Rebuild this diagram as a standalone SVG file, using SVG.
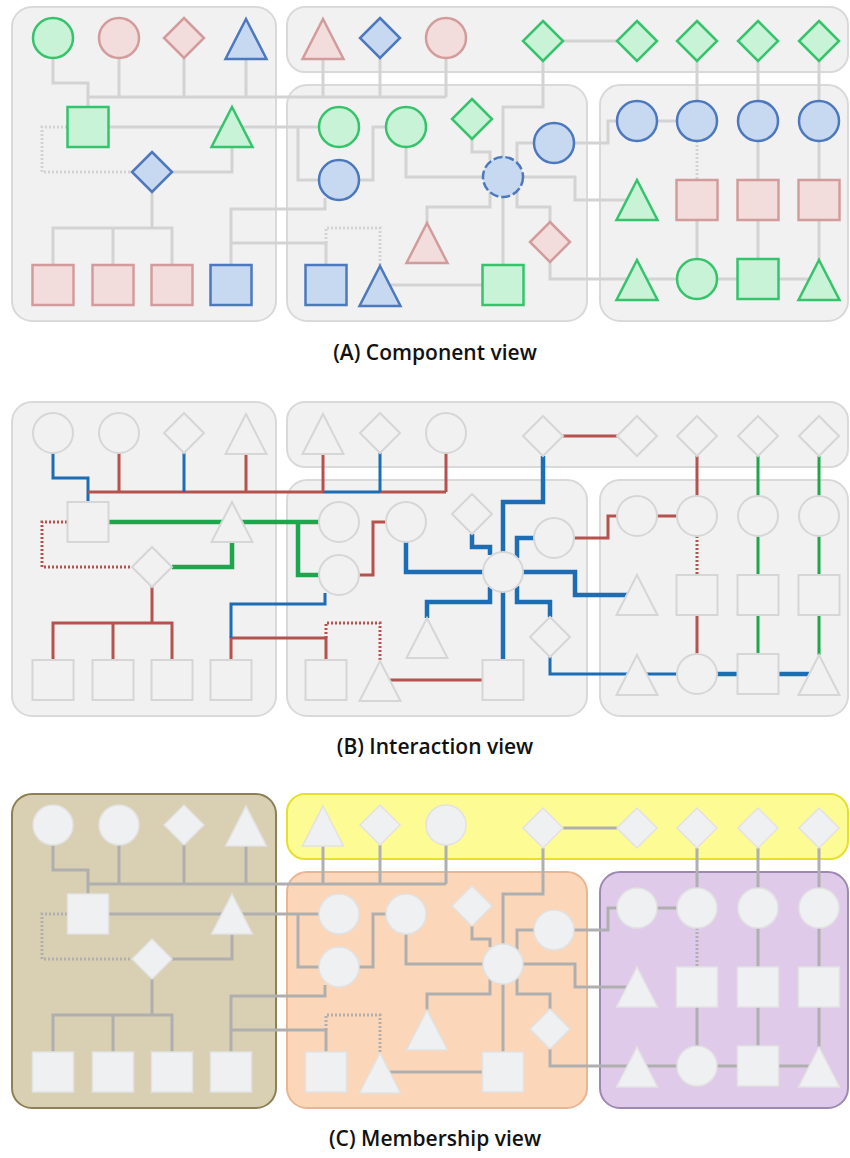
<svg xmlns="http://www.w3.org/2000/svg" width="850" height="1158" viewBox="0 0 850 1158">
<style>
.bx{stroke-width:2}
.A .bx,.B .bx{fill:#f1f1f1;stroke:#d9d9d9}
.nd{stroke-width:2.5}
.A .ng{fill:#c9f3d6;stroke:#35c46b}
.A .np{fill:#f3dcdc;stroke:#d39c9c}
.A .nb{fill:#c7d9f1;stroke:#4c78bd}
.A .hub{stroke-dasharray:9 3}
.B .nd{fill:#f1f1f1;stroke:#d6d6d6;stroke-width:2}
.C .nd{fill:#eff0f2;stroke:#e2e2e2;stroke-width:1.5}
.ln{fill:none;stroke-width:3}
.A .ln{stroke:#d3d3d3}
.C .ln{stroke:#afafaf}
.B .ln.r{stroke:#b5524e}
.B .ln.u{stroke:#1c6db3}
.B .ln.e{stroke:#1ea64c}
.B .ln.t{stroke-width:4.5}
.dt{stroke-dasharray:2 2}
.ttl{font-family:"Open Sans","Noto Sans",sans-serif;font-weight:600;font-size:21px;fill:#111;text-anchor:middle}
</style>
<rect width="850" height="1158" fill="#ffffff"/>

<!-- ============ PANEL A ============ -->
<g id="panelA" class="A">
<g id="a-boxes">
<rect class="bx" x="12" y="7" width="264" height="314" rx="20"/>
<rect class="bx" x="287" y="7" width="561" height="65" rx="18"/>
<rect class="bx" x="287" y="85" width="300" height="236" rx="20"/>
<rect class="bx" x="600" y="85" width="248" height="236" rx="20"/>
</g>
<g id="a-connectors">
<path class="ln" d="M53,58V83H88V107"/>
<path class="ln" d="M88,97H446"/>
<path class="ln" d="M119,58V97"/>
<path class="ln" d="M184,58V97"/>
<path class="ln" d="M246,59V97"/>
<path class="ln" d="M323,59V97"/>
<path class="ln" d="M380,58V97"/>
<path class="ln" d="M446,58V97"/>
<path class="ln" d="M108,127H319"/>
<path class="ln" d="M298,127V180H319"/>
<path class="ln dt" d="M67,127H42V172H132"/>
<path class="ln" d="M172,172H232V147"/>
<path class="ln" d="M152,192V228M53,265V228H172V265M113,228V265"/>
<path class="ln" d="M231,265V243H326V265"/>
<path class="ln" d="M325,198V209H231V243"/>
<path class="ln dt" d="M326,243V228H380V266"/>
<path class="ln" d="M359,180H373V127H386"/>
<path class="ln" d="M406,147V177H483"/>
<path class="ln" d="M472,139V152H490V160"/>
<path class="ln" d="M543,61V107H503V157"/>
<path class="ln" d="M534,143H517V163"/>
<path class="ln" d="M517,191V207H550V222"/>
<path class="ln" d="M490,192V207H427V223"/>
<path class="ln" d="M503,197V265"/>
<path class="ln" d="M523,177H575V200H627"/>
<path class="ln" d="M550,262V279H809"/>
<path class="ln" d="M390,285H483"/>
<path class="ln" d="M574,143H608V121H617"/>
<path class="ln" d="M563,41H617"/>
<path class="ln" d="M657,121H677"/>
<path class="ln" d="M697,61V101"/>
<path class="ln" d="M758,61V101"/>
<path class="ln" d="M819,61V101"/>
<path class="ln dt" d="M697,141V180"/>
<path class="ln" d="M758,141V180"/>
<path class="ln" d="M819,141V180"/>
<path class="ln" d="M697,220V259"/>
<path class="ln" d="M758,220V259"/>
<path class="ln" d="M819,220V260"/>
</g>
<g id="a-n1"><circle class="nd ng" cx="53" cy="38" r="20"/></g>
<g id="a-n2"><circle class="nd np" cx="119" cy="38" r="20"/></g>
<g id="a-n3"><polygon class="nd np" points="184,18 204,38 184,58 164,38"/></g>
<g id="a-n4"><polygon class="nd nb" points="246,19 266.5,59 225.5,59"/></g>
<g id="a-n5"><rect class="nd ng" x="67.5" y="107" width="41" height="40"/></g>
<g id="a-n6"><polygon class="nd ng" points="232,107 252.5,147 211.5,147"/></g>
<g id="a-n7"><polygon class="nd nb" points="152,152 172,172 152,192 132,172"/></g>
<g id="a-n8"><rect class="nd np" x="32.5" y="265" width="41" height="40"/></g>
<g id="a-n9"><rect class="nd np" x="92.5" y="265" width="41" height="40"/></g>
<g id="a-n10"><rect class="nd np" x="151.5" y="265" width="41" height="40"/></g>
<g id="a-n11"><rect class="nd nb" x="210.5" y="265" width="41" height="40"/></g>
<g id="a-n12"><polygon class="nd np" points="323,19 343.5,59 302.5,59"/></g>
<g id="a-n13"><polygon class="nd nb" points="380,18 400,38 380,58 360,38"/></g>
<g id="a-n14"><circle class="nd np" cx="446" cy="38" r="20"/></g>
<g id="a-n15"><polygon class="nd ng" points="543,21 563,41 543,61 523,41"/></g>
<g id="a-n16"><polygon class="nd ng" points="637,21 657,41 637,61 617,41"/></g>
<g id="a-n17"><polygon class="nd ng" points="697,21 717,41 697,61 677,41"/></g>
<g id="a-n18"><polygon class="nd ng" points="758,21 778,41 758,61 738,41"/></g>
<g id="a-n19"><polygon class="nd ng" points="819,21 839,41 819,61 799,41"/></g>
<g id="a-n20"><circle class="nd ng" cx="339" cy="127" r="20"/></g>
<g id="a-n21"><circle class="nd ng" cx="406" cy="127" r="20"/></g>
<g id="a-n22"><polygon class="nd ng" points="472,99 492,119 472,139 452,119"/></g>
<g id="a-n23"><circle class="nd nb" cx="554" cy="143" r="20"/></g>
<g id="a-n24"><circle class="nd nb" cx="339" cy="180" r="20"/></g>
<g id="a-n25"><circle class="nd nb hub" cx="503" cy="177" r="20"/></g>
<g id="a-n26"><polygon class="nd np" points="427,223 447.5,263 406.5,263"/></g>
<g id="a-n27"><polygon class="nd np" points="550,222 570,242 550,262 530,242"/></g>
<g id="a-n28"><rect class="nd nb" x="305.5" y="265" width="41" height="40"/></g>
<g id="a-n29"><polygon class="nd nb" points="380,266 400.5,306 359.5,306"/></g>
<g id="a-n30"><rect class="nd ng" x="482.5" y="265" width="41" height="40"/></g>
<g id="a-n31"><circle class="nd nb" cx="637" cy="121" r="20"/></g>
<g id="a-n32"><circle class="nd nb" cx="697" cy="121" r="20"/></g>
<g id="a-n33"><circle class="nd nb" cx="758" cy="121" r="20"/></g>
<g id="a-n34"><circle class="nd nb" cx="819" cy="121" r="20"/></g>
<g id="a-n35"><polygon class="nd ng" points="637,180 657.5,220 616.5,220"/></g>
<g id="a-n36"><rect class="nd np" x="676.5" y="180" width="41" height="40"/></g>
<g id="a-n37"><rect class="nd np" x="737.5" y="180" width="41" height="40"/></g>
<g id="a-n38"><rect class="nd np" x="798.5" y="180" width="41" height="40"/></g>
<g id="a-n39"><polygon class="nd ng" points="637,260 657.5,300 616.5,300"/></g>
<g id="a-n40"><circle class="nd ng" cx="697" cy="279" r="20"/></g>
<g id="a-n41"><rect class="nd ng" x="737.5" y="259" width="41" height="40"/></g>
<g id="a-n42"><polygon class="nd ng" points="819,260 839.5,300 798.5,300"/></g>
<text class="ttl" x="435" y="360">(A) Component view</text>
</g>

<!-- ============ PANEL B ============ -->
<g id="panelB" class="B" transform="translate(0,395)">
<g id="b-boxes">
<rect class="bx" x="12" y="7" width="264" height="314" rx="20"/>
<rect class="bx" x="287" y="7" width="561" height="65" rx="18"/>
<rect class="bx" x="287" y="85" width="300" height="236" rx="20"/>
<rect class="bx" x="600" y="85" width="248" height="236" rx="20"/>
</g>
<g id="b-connectors">
<path class="ln u" d="M53,58V83H88V107"/>
<path class="ln r" d="M88,97H323"/>
<path class="ln u" d="M323,97H380"/>
<path class="ln r" d="M380,97H446"/>
<path class="ln r" d="M119,58V97"/>
<path class="ln u" d="M184,58V97"/>
<path class="ln r" d="M246,59V97"/>
<path class="ln r" d="M323,59V97"/>
<path class="ln u" d="M380,58V97"/>
<path class="ln r" d="M446,58V97"/>
<path class="ln e t" d="M108,127H319"/>
<path class="ln e t" d="M298,127V180H319"/>
<path class="ln r dt" d="M67,127H42V172H132"/>
<path class="ln e t" d="M172,172H232V147"/>
<path class="ln r" d="M152,192V228M53,265V228H172V265M113,228V265"/>
<path class="ln r" d="M231,265V243H326V265"/>
<path class="ln u" d="M325,198V209H231V243"/>
<path class="ln r dt" d="M326,243V228H380V266"/>
<path class="ln r" d="M359,180H373V127H386"/>
<path class="ln u t" d="M406,147V177H483"/>
<path class="ln u t" d="M472,139V152H490V160"/>
<path class="ln u t" d="M543,61V107H503V157"/>
<path class="ln u t" d="M534,143H517V163"/>
<path class="ln u t" d="M517,191V207H550V222"/>
<path class="ln u t" d="M490,192V207H427V223"/>
<path class="ln u t" d="M503,197V265"/>
<path class="ln u t" d="M523,177H575V200H627"/>
<path class="ln u" d="M550,262V279H630"/>
<path class="ln u" d="M645,279H677"/>
<path class="ln u t" d="M717,279H738"/>
<path class="ln u t" d="M779,279H809"/>
<path class="ln r" d="M390,285H483"/>
<path class="ln r" d="M574,143H608V121H617"/>
<path class="ln r" d="M563,41H617"/>
<path class="ln r" d="M657,121H677"/>
<path class="ln r" d="M697,61V101"/>
<path class="ln e" d="M758,61V101"/>
<path class="ln e" d="M819,61V101"/>
<path class="ln r dt" d="M697,141V180"/>
<path class="ln e" d="M758,141V180"/>
<path class="ln e" d="M819,141V180"/>
<path class="ln r" d="M697,220V259"/>
<path class="ln e" d="M758,220V259"/>
<path class="ln e" d="M819,220V260"/>
</g>
<g id="b-n1"><circle class="nd" cx="53" cy="38" r="20"/></g>
<g id="b-n2"><circle class="nd" cx="119" cy="38" r="20"/></g>
<g id="b-n3"><polygon class="nd" points="184,18 204,38 184,58 164,38"/></g>
<g id="b-n4"><polygon class="nd" points="246,19 266.5,59 225.5,59"/></g>
<g id="b-n5"><rect class="nd" x="67.5" y="107" width="41" height="40"/></g>
<g id="b-n6"><polygon class="nd" points="232,107 252.5,147 211.5,147"/></g>
<g id="b-n7"><polygon class="nd" points="152,152 172,172 152,192 132,172"/></g>
<g id="b-n8"><rect class="nd" x="32.5" y="265" width="41" height="40"/></g>
<g id="b-n9"><rect class="nd" x="92.5" y="265" width="41" height="40"/></g>
<g id="b-n10"><rect class="nd" x="151.5" y="265" width="41" height="40"/></g>
<g id="b-n11"><rect class="nd" x="210.5" y="265" width="41" height="40"/></g>
<g id="b-n12"><polygon class="nd" points="323,19 343.5,59 302.5,59"/></g>
<g id="b-n13"><polygon class="nd" points="380,18 400,38 380,58 360,38"/></g>
<g id="b-n14"><circle class="nd" cx="446" cy="38" r="20"/></g>
<g id="b-n15"><polygon class="nd" points="543,21 563,41 543,61 523,41"/></g>
<g id="b-n16"><polygon class="nd" points="637,21 657,41 637,61 617,41"/></g>
<g id="b-n17"><polygon class="nd" points="697,21 717,41 697,61 677,41"/></g>
<g id="b-n18"><polygon class="nd" points="758,21 778,41 758,61 738,41"/></g>
<g id="b-n19"><polygon class="nd" points="819,21 839,41 819,61 799,41"/></g>
<g id="b-n20"><circle class="nd" cx="339" cy="127" r="20"/></g>
<g id="b-n21"><circle class="nd" cx="406" cy="127" r="20"/></g>
<g id="b-n22"><polygon class="nd" points="472,99 492,119 472,139 452,119"/></g>
<g id="b-n23"><circle class="nd" cx="554" cy="143" r="20"/></g>
<g id="b-n24"><circle class="nd" cx="339" cy="180" r="20"/></g>
<g id="b-n25"><circle class="nd" cx="503" cy="177" r="20"/></g>
<g id="b-n26"><polygon class="nd" points="427,223 447.5,263 406.5,263"/></g>
<g id="b-n27"><polygon class="nd" points="550,222 570,242 550,262 530,242"/></g>
<g id="b-n28"><rect class="nd" x="305.5" y="265" width="41" height="40"/></g>
<g id="b-n29"><polygon class="nd" points="380,266 400.5,306 359.5,306"/></g>
<g id="b-n30"><rect class="nd" x="482.5" y="265" width="41" height="40"/></g>
<g id="b-n31"><circle class="nd" cx="637" cy="121" r="20"/></g>
<g id="b-n32"><circle class="nd" cx="697" cy="121" r="20"/></g>
<g id="b-n33"><circle class="nd" cx="758" cy="121" r="20"/></g>
<g id="b-n34"><circle class="nd" cx="819" cy="121" r="20"/></g>
<g id="b-n35"><polygon class="nd" points="637,180 657.5,220 616.5,220"/></g>
<g id="b-n36"><rect class="nd" x="676.5" y="180" width="41" height="40"/></g>
<g id="b-n37"><rect class="nd" x="737.5" y="180" width="41" height="40"/></g>
<g id="b-n38"><rect class="nd" x="798.5" y="180" width="41" height="40"/></g>
<g id="b-n39"><polygon class="nd" points="637,260 657.5,300 616.5,300"/></g>
<g id="b-n40"><circle class="nd" cx="697" cy="279" r="20"/></g>
<g id="b-n41"><rect class="nd" x="737.5" y="259" width="41" height="40"/></g>
<g id="b-n42"><polygon class="nd" points="819,260 839.5,300 798.5,300"/></g>
<text class="ttl" x="435" y="359">(B) Interaction view</text>
</g>

<!-- ============ PANEL C ============ -->
<g id="panelC" class="C" transform="translate(0,787)">
<g id="c-boxes">
<rect class="bx" x="12" y="7" width="264" height="314" rx="20" fill="#d9cfb2" stroke="#8c8055"/>
<rect class="bx" x="287" y="7" width="561" height="65" rx="18" fill="#fdfb93" stroke="#e6df2c"/>
<rect class="bx" x="287" y="85" width="300" height="236" rx="20" fill="#fbd6b9" stroke="#eab592"/>
<rect class="bx" x="600" y="85" width="248" height="236" rx="20" fill="#e0caea" stroke="#9c89b3"/>
</g>
<g id="c-connectors">
<path class="ln" d="M53,58V83H88V107"/>
<path class="ln" d="M88,97H446"/>
<path class="ln" d="M119,58V97"/>
<path class="ln" d="M184,58V97"/>
<path class="ln" d="M246,59V97"/>
<path class="ln" d="M323,59V97"/>
<path class="ln" d="M380,58V97"/>
<path class="ln" d="M446,58V97"/>
<path class="ln" d="M108,127H319"/>
<path class="ln" d="M298,127V180H319"/>
<path class="ln dt" d="M67,127H42V172H132"/>
<path class="ln" d="M172,172H232V147"/>
<path class="ln" d="M152,192V228M53,265V228H172V265M113,228V265"/>
<path class="ln" d="M231,265V243H326V265"/>
<path class="ln" d="M325,198V209H231V243"/>
<path class="ln dt" d="M326,243V228H380V266"/>
<path class="ln" d="M359,180H373V127H386"/>
<path class="ln" d="M406,147V177H483"/>
<path class="ln" d="M472,139V152H490V160"/>
<path class="ln" d="M543,61V107H503V157"/>
<path class="ln" d="M534,143H517V163"/>
<path class="ln" d="M517,191V207H550V222"/>
<path class="ln" d="M490,192V207H427V223"/>
<path class="ln" d="M503,197V265"/>
<path class="ln" d="M523,177H575V200H627"/>
<path class="ln" d="M550,262V279H809"/>
<path class="ln" d="M390,285H483"/>
<path class="ln" d="M574,143H608V121H617"/>
<path class="ln" d="M563,41H617"/>
<path class="ln" d="M657,121H677"/>
<path class="ln" d="M697,61V101"/>
<path class="ln" d="M758,61V101"/>
<path class="ln" d="M819,61V101"/>
<path class="ln dt" d="M697,141V180"/>
<path class="ln" d="M758,141V180"/>
<path class="ln" d="M819,141V180"/>
<path class="ln" d="M697,220V259"/>
<path class="ln" d="M758,220V259"/>
<path class="ln" d="M819,220V260"/>
</g>
<g id="c-n1"><circle class="nd" cx="53" cy="38" r="20"/></g>
<g id="c-n2"><circle class="nd" cx="119" cy="38" r="20"/></g>
<g id="c-n3"><polygon class="nd" points="184,18 204,38 184,58 164,38"/></g>
<g id="c-n4"><polygon class="nd" points="246,19 266.5,59 225.5,59"/></g>
<g id="c-n5"><rect class="nd" x="67.5" y="107" width="41" height="40"/></g>
<g id="c-n6"><polygon class="nd" points="232,107 252.5,147 211.5,147"/></g>
<g id="c-n7"><polygon class="nd" points="152,152 172,172 152,192 132,172"/></g>
<g id="c-n8"><rect class="nd" x="32.5" y="265" width="41" height="40"/></g>
<g id="c-n9"><rect class="nd" x="92.5" y="265" width="41" height="40"/></g>
<g id="c-n10"><rect class="nd" x="151.5" y="265" width="41" height="40"/></g>
<g id="c-n11"><rect class="nd" x="210.5" y="265" width="41" height="40"/></g>
<g id="c-n12"><polygon class="nd" points="323,19 343.5,59 302.5,59"/></g>
<g id="c-n13"><polygon class="nd" points="380,18 400,38 380,58 360,38"/></g>
<g id="c-n14"><circle class="nd" cx="446" cy="38" r="20"/></g>
<g id="c-n15"><polygon class="nd" points="543,21 563,41 543,61 523,41"/></g>
<g id="c-n16"><polygon class="nd" points="637,21 657,41 637,61 617,41"/></g>
<g id="c-n17"><polygon class="nd" points="697,21 717,41 697,61 677,41"/></g>
<g id="c-n18"><polygon class="nd" points="758,21 778,41 758,61 738,41"/></g>
<g id="c-n19"><polygon class="nd" points="819,21 839,41 819,61 799,41"/></g>
<g id="c-n20"><circle class="nd" cx="339" cy="127" r="20"/></g>
<g id="c-n21"><circle class="nd" cx="406" cy="127" r="20"/></g>
<g id="c-n22"><polygon class="nd" points="472,99 492,119 472,139 452,119"/></g>
<g id="c-n23"><circle class="nd" cx="554" cy="143" r="20"/></g>
<g id="c-n24"><circle class="nd" cx="339" cy="180" r="20"/></g>
<g id="c-n25"><circle class="nd" cx="503" cy="177" r="20"/></g>
<g id="c-n26"><polygon class="nd" points="427,223 447.5,263 406.5,263"/></g>
<g id="c-n27"><polygon class="nd" points="550,222 570,242 550,262 530,242"/></g>
<g id="c-n28"><rect class="nd" x="305.5" y="265" width="41" height="40"/></g>
<g id="c-n29"><polygon class="nd" points="380,266 400.5,306 359.5,306"/></g>
<g id="c-n30"><rect class="nd" x="482.5" y="265" width="41" height="40"/></g>
<g id="c-n31"><circle class="nd" cx="637" cy="121" r="20"/></g>
<g id="c-n32"><circle class="nd" cx="697" cy="121" r="20"/></g>
<g id="c-n33"><circle class="nd" cx="758" cy="121" r="20"/></g>
<g id="c-n34"><circle class="nd" cx="819" cy="121" r="20"/></g>
<g id="c-n35"><polygon class="nd" points="637,180 657.5,220 616.5,220"/></g>
<g id="c-n36"><rect class="nd" x="676.5" y="180" width="41" height="40"/></g>
<g id="c-n37"><rect class="nd" x="737.5" y="180" width="41" height="40"/></g>
<g id="c-n38"><rect class="nd" x="798.5" y="180" width="41" height="40"/></g>
<g id="c-n39"><polygon class="nd" points="637,260 657.5,300 616.5,300"/></g>
<g id="c-n40"><circle class="nd" cx="697" cy="279" r="20"/></g>
<g id="c-n41"><rect class="nd" x="737.5" y="259" width="41" height="40"/></g>
<g id="c-n42"><polygon class="nd" points="819,260 839.5,300 798.5,300"/></g>
<text class="ttl" x="435" y="359">(C) Membership view</text>
</g>
</svg>
